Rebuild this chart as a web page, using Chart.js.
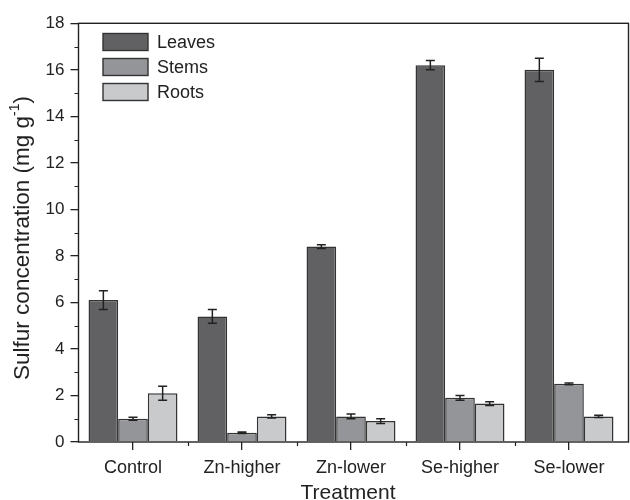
<!DOCTYPE html>
<html>
<head>
<meta charset="utf-8">
<script src="https://cdn.jsdelivr.net/npm/chart.js@4.4.1/dist/chart.umd.min.js"></script>
<style>
  html, body { margin: 0; padding: 0; background: #fff; }
  #wrap { width: 630px; height: 500px; }
</style>
</head>
<body>
<div id="wrap"><canvas id="c" width="630" height="500"></canvas></div>
<script>
// Treatments along the x axis
const categories = ['Control', 'Zn-higher', 'Zn-lower', 'Se-higher', 'Se-lower'];

// Sulfur concentration per tissue (mg g-1)
const leaves = [6.1, 5.4, 8.4, 16.2, 16.0];
const stems  = [1.0, 0.4, 1.1, 1.9, 2.5];
const roots  = [2.1, 1.1, 0.9, 1.65, 1.1];

// Standard errors
const leavesErr = [0.4, 0.3, 0.08, 0.2, 0.5];
const stemsErr  = [0.06, 0.03, 0.1, 0.1, 0.04];
const rootsErr  = [0.3, 0.07, 0.1, 0.08, 0.05];

// Labelled y ticks
const yTicks = [0, 2, 4, 6, 8, 10, 12, 14, 16, 18];

const FONT = "'Liberation Sans', Arial, Helvetica, sans-serif";
const INK = '#222222';

// Error bars, frame, minor ticks, legend and axis titles
const extras = {
  id: 'extras',
  afterDatasetsDraw(chart) {
    const { ctx, scales: { y } } = chart;
    ctx.save();
    ctx.strokeStyle = INK;
    ctx.lineWidth = 1.5;
    chart.data.datasets.forEach((ds, i) => {
      const meta = chart.getDatasetMeta(i);
      meta.data.forEach((bar, j) => {
        const v = ds.data[j], e = ds.errors[j];
        const yt = y.getPixelForValue(v + e);
        const yb = y.getPixelForValue(v - e);
        const cx = bar.x;
        ctx.beginPath();
        ctx.moveTo(cx, yt); ctx.lineTo(cx, yb);
        ctx.moveTo(cx - 4.5, yt); ctx.lineTo(cx + 4.5, yt);
        ctx.moveTo(cx - 4.5, yb); ctx.lineTo(cx + 4.5, yb);
        ctx.stroke();
      });
    });
    ctx.restore();
  },
  afterDraw(chart) {
    const { ctx, chartArea: a, scales: { x, y } } = chart;
    ctx.save();
    // plot frame
    ctx.strokeStyle = INK;
    ctx.lineWidth = 1.4;
    const right = a.right + 5;
    ctx.strokeRect(a.left, a.top, right - a.left, a.bottom - a.top);

    // minor ticks on y (odd values)
    ctx.lineWidth = 1.2;
    ctx.beginPath();
    for (let v = 1; v < 18; v += 2) {
      const py = Math.round(y.getPixelForValue(v)) + 0.5;
      ctx.moveTo(a.left - 4, py); ctx.lineTo(a.left, py);
    }
    // minor ticks on x (between categories)
    for (let i = 0; i < categories.length - 1; i++) {
      const px = Math.round((x.getPixelForValue(i) + x.getPixelForValue(i + 1)) / 2) + 0.5;
      ctx.moveTo(px, a.bottom); ctx.lineTo(px, a.bottom + 4);
    }
    ctx.stroke();

    // legend
    ctx.font = '18px ' + FONT;
    ctx.textBaseline = 'middle';
    ctx.textAlign = 'left';
    chart.data.datasets.forEach((ds, i) => {
      const cy = 42 + i * 25;
      ctx.fillStyle = ds.backgroundColor;
      ctx.fillRect(103, cy - 8.5, 45, 17);
      ctx.strokeStyle = '#333';
      ctx.lineWidth = 1.4;
      ctx.strokeRect(103, cy - 8.5, 45, 17);
      ctx.fillStyle = INK;
      ctx.fillText(ds.label, 157, cy + 1);
    });

    // x title
    ctx.font = '21px ' + FONT;
    ctx.textAlign = 'center';
    ctx.textBaseline = 'alphabetic';
    ctx.fillText('Treatment', 348, 499);

    // y title with superscript
    ctx.translate(23, 238);
    ctx.rotate(-Math.PI / 2);
    const main = 'Sulfur concentration (mg g';
    const sup = '-1';
    const close = ')';
    const big = '22.5px ' + FONT, small = '14px ' + FONT;
    ctx.font = big; const w1 = ctx.measureText(main).width; const w3 = ctx.measureText(close).width;
    ctx.font = small; const w2 = ctx.measureText(sup).width;
    let sx = -(w1 + w2 + w3) / 2;
    ctx.textAlign = 'left';
    ctx.textBaseline = 'middle';
    ctx.font = big; ctx.fillText(main, sx, 0); sx += w1;
    ctx.font = small; ctx.fillText(sup, sx, -8); sx += w2;
    ctx.font = big; ctx.fillText(close, sx, 0);
    ctx.restore();
  }
};

new Chart(document.getElementById('c'), {
  type: 'bar',
  data: {
    labels: categories,
    datasets: [
      { label: 'Leaves', data: leaves, errors: leavesErr, backgroundColor: '#616163' },
      { label: 'Stems',  data: stems,  errors: stemsErr,  backgroundColor: '#949598' },
      { label: 'Roots',  data: roots,  errors: rootsErr,  backgroundColor: '#c9cacc' }
    ]
  },
  options: {
    responsive: false,
    animation: false,
    devicePixelRatio: 1,
    layout: { padding: { left: 0, right: 6.5, top: 23.3, bottom: 0 } },
    datasets: {
      bar: {
        borderColor: '#333333',
        borderWidth: 1.5,
        barPercentage: 1.0,
        categoryPercentage: 0.816
      }
    },
    plugins: {
      legend: { display: false },
      tooltip: { enabled: false }
    },
    scales: {
      x: {
        grid: { drawOnChartArea: false, offset: false, tickLength: 8, color: INK, lineWidth: 1.3 },
        border: { display: false },
        ticks: { font: { family: FONT, size: 18 }, color: INK, padding: 7, maxRotation: 0 },
        afterFit(scale) { scale.height = 58; }
      },
      y: {
        min: 0,
        max: 18,
        afterBuildTicks(scale) { scale.ticks = yTicks.map(v => ({ value: v })); },
        grid: { drawOnChartArea: false, tickLength: 8, color: INK, lineWidth: 1.3 },
        border: { display: false },
        ticks: { font: { family: FONT, size: 17 }, color: INK, padding: 6 },
        afterFit(scale) { scale.width = 78.5; }
      }
    }
  },
  plugins: [extras]
});
</script>
</body>
</html>
